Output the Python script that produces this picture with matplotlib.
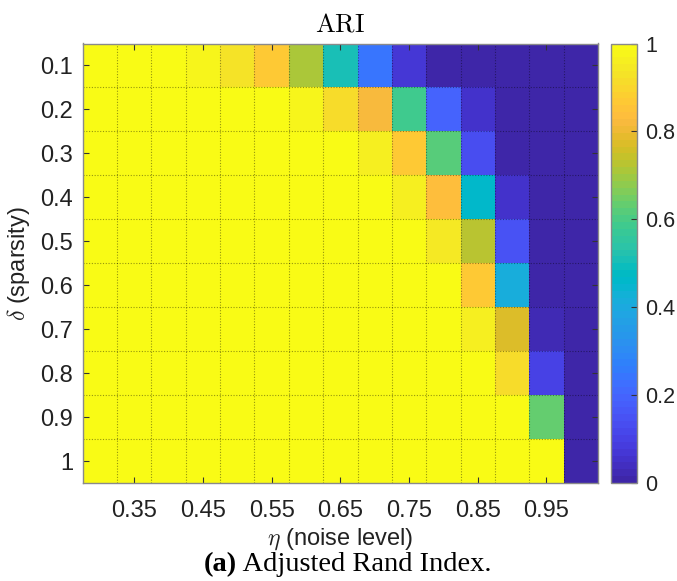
import numpy as np
import matplotlib
matplotlib.use("Agg")
import matplotlib.pyplot as plt
from matplotlib.colors import ListedColormap

# ---------------- data ----------------
eta = [0.30, 0.35, 0.40, 0.45, 0.50, 0.55, 0.60, 0.65, 0.70, 0.75, 0.80, 0.85, 0.90, 0.95, 1.00]
delta = [0.1, 0.2, 0.3, 0.4, 0.5, 0.6, 0.7, 0.8, 0.9, 1.0]
xtick_vals = [0.35, 0.45, 0.55, 0.65, 0.75, 0.85, 0.95]
xtick_labels = ["0.35", "0.45", "0.55", "0.65", "0.75", "0.85", "0.95"]
ytick_labels = ["0.1", "0.2", "0.3", "0.4", "0.5", "0.6", "0.7", "0.8", "0.9", "1"]
cbar_ticks = [0, 0.2, 0.4, 0.6, 0.8, 1]
cbar_labels = ["0", "0.2", "0.4", "0.6", "0.8", "1"]

ari_d01 = [1, 1, 1, 0.97, 0.93, 0.86, 0.71, 0.51, 0.24, 0.07, 0.01, 0.0, 0.0, 0.0, 0.0]
ari_d02 = [1, 1, 1, 1, 1, 1, 0.98, 0.92, 0.82, 0.58, 0.19, 0.05, 0.01, 0.0, 0.0]
ari_d03 = [1, 1, 1, 1, 1, 1, 1, 1, 0.96, 0.86, 0.62, 0.13, 0.01, 0.0, 0.0]
ari_d04 = [1, 1, 1, 1, 1, 1, 1, 1, 1, 0.96, 0.83, 0.46, 0.06, 0.0, 0.0]
ari_d05 = [1, 1, 1, 1, 1, 1, 1, 1, 1, 1, 0.94, 0.73, 0.15, 0.01, 0.0]
ari_d06 = [1, 1, 1, 1, 1, 1, 1, 1, 1, 1, 1, 0.86, 0.42, 0.01, 0.0]
ari_d07 = [1, 1, 1, 1, 1, 1, 1, 1, 1, 1, 1, 0.96, 0.77, 0.03, 0.0]
ari_d08 = [1, 1, 1, 1, 1, 1, 1, 1, 1, 1, 1, 1, 0.91, 0.10, 0.0]
ari_d09 = [1, 1, 1, 1, 1, 1, 1, 1, 1, 1, 1, 1, 1, 0.64, 0.0]
ari_d10 = [1, 1, 1, 1, 1, 1, 1, 1, 1, 1, 1, 1, 1, 1, 0.0]

# ---------------- parula colormap ----------------
parula_data = [
    [0.2422, 0.1504, 0.6603], [0.2504, 0.1650, 0.7076], [0.2578, 0.1818, 0.7511], [0.2647, 0.1978, 0.7952],
    [0.2706, 0.2147, 0.8364], [0.2751, 0.2342, 0.8710], [0.2783, 0.2559, 0.8991], [0.2803, 0.2782, 0.9221],
    [0.2813, 0.3006, 0.9414], [0.2810, 0.3228, 0.9579], [0.2795, 0.3447, 0.9717], [0.2760, 0.3667, 0.9829],
    [0.2699, 0.3892, 0.9906], [0.2602, 0.4123, 0.9952], [0.2440, 0.4358, 0.9988], [0.2206, 0.4603, 0.9973],
    [0.1963, 0.4847, 0.9892], [0.1834, 0.5074, 0.9798], [0.1786, 0.5289, 0.9682], [0.1764, 0.5499, 0.9520],
    [0.1687, 0.5703, 0.9359], [0.1540, 0.5902, 0.9218], [0.1460, 0.6091, 0.9079], [0.1380, 0.6276, 0.8973],
    [0.1248, 0.6459, 0.8883], [0.1113, 0.6635, 0.8763], [0.0952, 0.6798, 0.8598], [0.0689, 0.6948, 0.8394],
    [0.0297, 0.7082, 0.8163], [0.0036, 0.7203, 0.7917], [0.0067, 0.7312, 0.7660], [0.0433, 0.7411, 0.7394],
    [0.0964, 0.7500, 0.7120], [0.1408, 0.7584, 0.6842], [0.1717, 0.7670, 0.6554], [0.1938, 0.7758, 0.6251],
    [0.2161, 0.7843, 0.5923], [0.2470, 0.7918, 0.5567], [0.2906, 0.7973, 0.5188], [0.3406, 0.8008, 0.4789],
    [0.3909, 0.8029, 0.4354], [0.4456, 0.8024, 0.3909], [0.5044, 0.7993, 0.3480], [0.5616, 0.7942, 0.3045],
    [0.6174, 0.7876, 0.2612], [0.6720, 0.7793, 0.2227], [0.7242, 0.7698, 0.1910], [0.7738, 0.7598, 0.1646],
    [0.8203, 0.7498, 0.1535], [0.8634, 0.7406, 0.1596], [0.9035, 0.7330, 0.1774], [0.9393, 0.7288, 0.2100],
    [0.9728, 0.7298, 0.2394], [0.9956, 0.7434, 0.2371], [0.9970, 0.7659, 0.2199], [0.9952, 0.7893, 0.2028],
    [0.9892, 0.8136, 0.1885], [0.9786, 0.8386, 0.1766], [0.9676, 0.8639, 0.1643], [0.9610, 0.8890, 0.1537],
    [0.9597, 0.9135, 0.1423], [0.9628, 0.9373, 0.1265], [0.9691, 0.9606, 0.1064], [0.9769, 0.9839, 0.0805],
]
parula = ListedColormap(parula_data, name="parula")

# ---------------- figure ----------------
plt.rcParams["font.family"] = ["Liberation Sans", "DejaVu Sans"]
plt.rcParams["mathtext.fontset"] = "cm"

W, H = 677, 581
fig = plt.figure(figsize=(W / 100, H / 100), dpi=100)

def fx(px):
    return px / W

def fy(py):
    return 1 - py / H

ax = fig.add_axes([fx(82.7), fy(483), fx(598) - fx(82.7), fy(43.5) - fy(483)])
cax = fig.add_axes([fx(611), fy(483), fx(637) - fx(611), fy(43.5) - fy(483)])

Z = np.array([ari_d01, ari_d02, ari_d03, ari_d04, ari_d05,
              ari_d06, ari_d07, ari_d08, ari_d09, ari_d10])
eta_a = np.array(eta)
delta_a = np.array(delta)
dx = (eta_a[1] - eta_a[0]) / 2
dy = (delta_a[1] - delta_a[0]) / 2
xe = np.concatenate([eta_a - dx, [eta_a[-1] + dx]])
ye = np.concatenate([delta_a - dy, [delta_a[-1] + dy]])

mesh = ax.pcolormesh(xe, ye, Z, cmap=parula, vmin=0, vmax=1, shading="flat")
ax.set_xlim(xe[0], xe[-1])
ax.set_ylim(ye[-1], ye[0])

# grid at cell boundaries
for x in xe[1:-1]:
    ax.axvline(x, color="k", lw=0.8, ls=(0, (1, 1.5)), alpha=0.4)
for y in ye[1:-1]:
    ax.axhline(y, color="k", lw=0.8, ls=(0, (1, 1.5)), alpha=0.4)

FS = 17
ax.set_xticks(xtick_vals)
ax.set_xticklabels(xtick_labels)
ax.set_yticks(delta)
ax.set_yticklabels(ytick_labels)
ax.tick_params(axis="both", direction="in", length=4, width=0.8, color="#333333",
               labelsize=FS, labelcolor="#222222", top=True, right=True)
ax.tick_params(axis="x", pad=12)
ax.tick_params(axis="y", pad=7)
for s in ax.spines.values():
    s.set_color("#8a8a8a")
    s.set_linewidth(1.0)

ax.set_xlabel(r"$\eta$ (noise level)", fontsize=FS, color="#222222", labelpad=3)
ax.set_ylabel(r"$\delta$ (sparsity)", fontsize=FS, color="#222222", labelpad=6)

cb = fig.colorbar(mesh, cax=cax)
cb.set_ticks(cbar_ticks)
cb.set_ticklabels(cbar_labels)
cb.ax.tick_params(direction="in", length=4, width=0.8, color="#333333",
                  labelsize=15.5, labelcolor="#222222", pad=6)
cb.outline.set_edgecolor("#8a8a8a")
cb.outline.set_linewidth(1.0)

# title
fig.text(fx(340.5), fy(32), r"$\mathrm{ARI}$", ha="center", va="baseline", fontsize=19)

# caption
cap_fs = 20.5
renderer = fig.canvas.get_renderer()
t1 = fig.text(0, 0, "(a)", fontsize=cap_fs, fontweight="bold", family="Liberation Serif")
t2 = fig.text(0, 0, " Adjusted Rand Index.", fontsize=cap_fs, family="Liberation Serif")
w1 = t1.get_window_extent(renderer).width
w2 = t2.get_window_extent(renderer).width
cx = 348
start = cx - (w1 + w2) / 2
base = 571
t1.set_position((fx(start), fy(base)))
t2.set_position((fx(start + w1), fy(base)))
t1.set_va("baseline")
t2.set_va("baseline")

fig.savefig("out.png", dpi=100)
